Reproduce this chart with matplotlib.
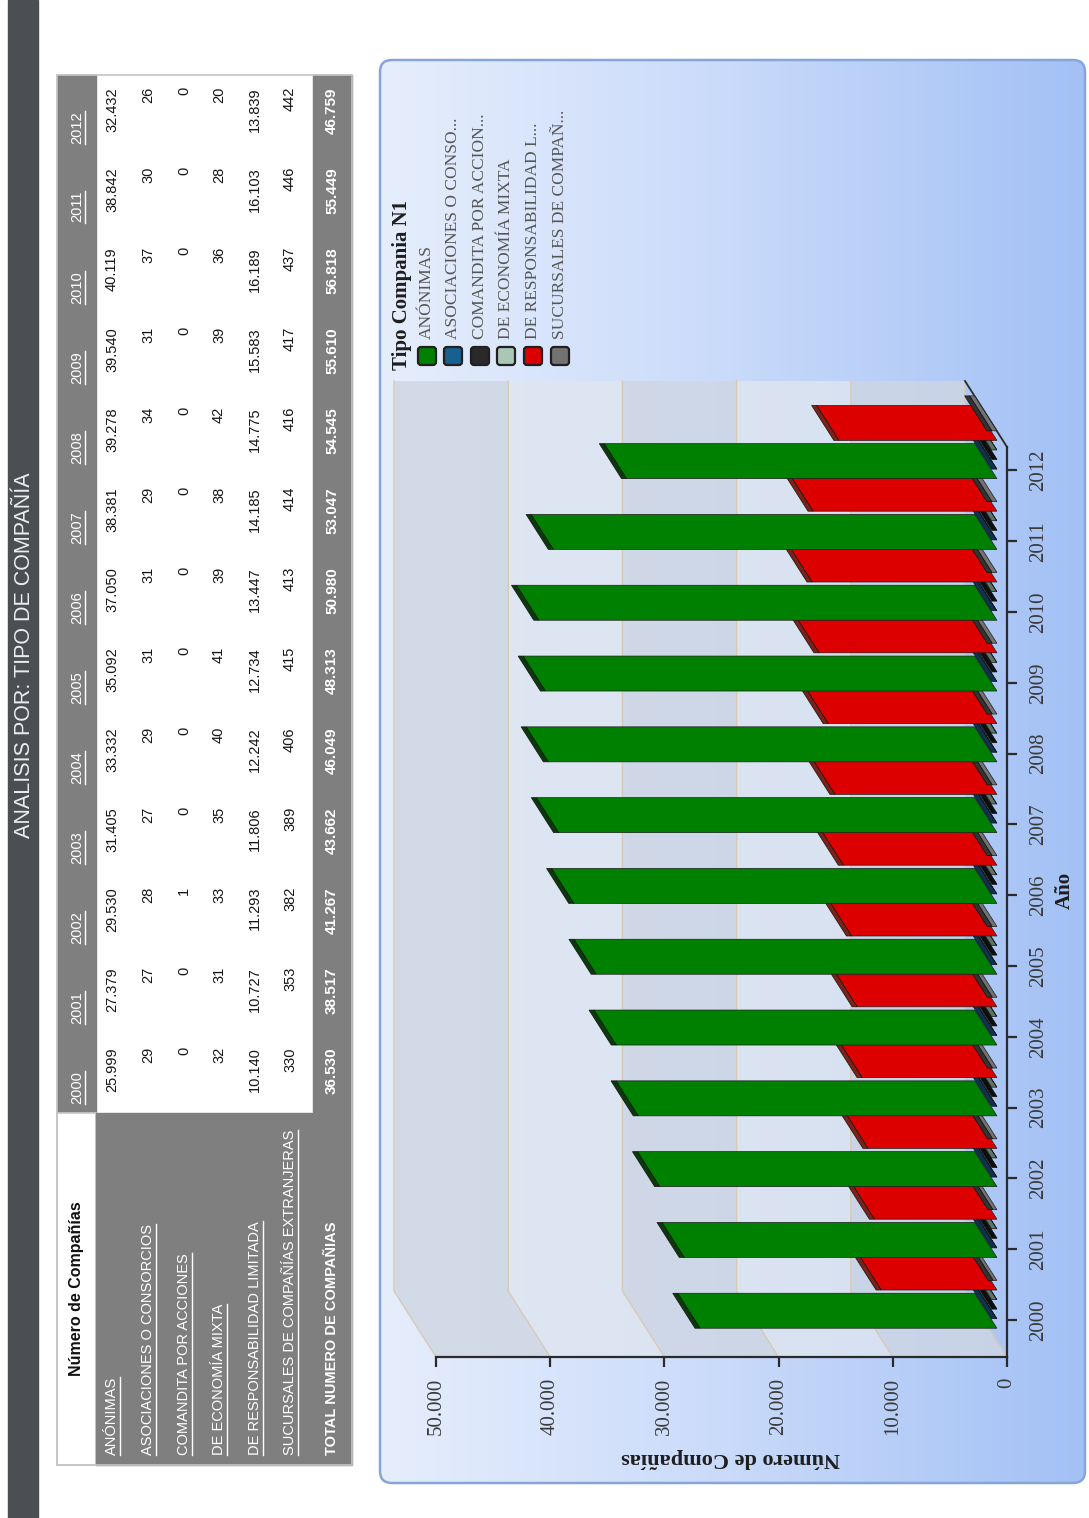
import matplotlib
matplotlib.use('Agg')
import matplotlib.pyplot as plt
from matplotlib.patches import Polygon, Rectangle, FancyBboxPatch
from matplotlib.colors import LinearSegmentedColormap
from matplotlib import font_manager
import numpy as np

# ---------------- data ----------------
years = [2000, 2001, 2002, 2003, 2004, 2005, 2006, 2007, 2008, 2009, 2010, 2011, 2012]
row_labels = ['ANÓNIMAS', 'ASOCIACIONES O CONSORCIOS', 'COMANDITA POR ACCIONES',
              'DE ECONOMÍA MIXTA', 'DE RESPONSABILIDAD LIMITADA',
              'SUCURSALES DE COMPAÑÍAS EXTRANJERAS']
legend_labels = ['ANÓNIMAS', 'ASOCIACIONES O CONSO...', 'COMANDITA POR ACCION...',
                 'DE ECONOMÍA MIXTA', 'DE RESPONSABILIDAD L...', 'SUCURSALES DE COMPAÑ...']
anonimas = [25999, 27379, 29530, 31405, 33332, 35092, 37050, 38381, 39278, 39540, 40119, 38842, 32432]
asociaciones = [29, 27, 28, 27, 29, 31, 31, 29, 34, 31, 37, 30, 26]
comandita = [0, 0, 1, 0, 0, 0, 0, 0, 0, 0, 0, 0, 0]
economia_mixta = [32, 31, 33, 35, 40, 41, 39, 38, 42, 39, 36, 28, 20]
resp_limitada = [10140, 10727, 11293, 11806, 12242, 12734, 13447, 14185, 14775, 15583, 16189, 16103, 13839]
sucursales = [330, 353, 382, 389, 406, 415, 413, 414, 416, 417, 437, 446, 442]
totales = [36530, 38517, 41267, 43662, 46049, 48313, 50980, 53047, 54545, 55610, 56818, 55449, 46759]
value_ticks = [0, 10000, 20000, 30000, 40000, 50000]
series = [anonimas, asociaciones, comandita, economia_mixta, resp_limitada, sucursales]

table_title = 'Número de Compañías'
total_label = 'TOTAL NUMERO DE COMPAÑIAS'
page_title = 'ANALISIS POR: TIPO DE COMPAÑÍA'
legend_title = 'Tipo Compania N1'
x_label = 'Número de Compañías'
y_label = 'Año'

# ---------------- styles ----------------
face_colors = ['#008000', '#17608f', '#2a2a2a', '#a9c6b6', '#dd0000', '#727272']
cap_colors = ['#0a3a0a', '#0c3350', '#0e0e0e', '#5f7468', '#7d2216', '#333333']

W, H, DPI = 1089, 1518, 100
avail = {f.name for f in font_manager.fontManager.ttflist}
if 'Liberation Sans Narrow' in avail:
    SANS, SK = 'Liberation Sans Narrow', 1.2
else:
    SANS, SK = 'Liberation Sans', 1.0
SERIF = 'Liberation Serif'


def fmt(v):
    return f'{v:,}'.replace(',', '.')


fig = plt.figure(figsize=(W / DPI, H / DPI), dpi=DPI)
fig.patch.set_facecolor('white')
bg = fig.add_axes([0, 0, 1, 1], zorder=0)
bg.set_xlim(0, W)
bg.set_ylim(H, 0)
bg.axis('off')

# ---------------- title strip ----------------
bg.add_patch(Rectangle((8, 0), 30, H, color='#4b4e52', zorder=1))
bg.text(25, 655, page_title, rotation=90, color='#ededed', fontsize=15.5 * SK,
        family=SANS, ha='center', va='center', zorder=2)

# ---------------- table ----------------
gray = '#7f7f7f'
hdr_x0, hdr_x1 = 57, 96
tot_x0, tot_x1 = 313, 352
tab_y0, lab_y0, tab_y1 = 75, 1113, 1465
bg.add_patch(Rectangle((hdr_x0, tab_y0), hdr_x1 - hdr_x0, lab_y0 - tab_y0, color=gray, zorder=1))
bg.add_patch(Rectangle((hdr_x0, lab_y0), hdr_x1 - hdr_x0, tab_y1 - lab_y0, fc='white', ec='#c9c9c9', lw=1.2, zorder=1))
bg.add_patch(Rectangle((hdr_x1, lab_y0), tot_x1 - hdr_x1, tab_y1 - lab_y0, color=gray, zorder=1))
bg.add_patch(Rectangle((tot_x0, tab_y0), tot_x1 - tot_x0, lab_y0 - tab_y0, color=gray, zorder=1))
bg.add_patch(Rectangle((hdr_x0, tab_y0), tot_x1 - hdr_x0, tab_y1 - tab_y0, fill=False, ec='#c4c4c4', lw=1.2, zorder=1))

row_x = [112, 148, 184, 219, 255, 290]
tot_x = 332
hdr_x = 77
underlined = []
fs_tab = 10.5 * SK
for i, yr in enumerate(years):
    top = 1047 - 80 * i
    t = bg.text(hdr_x, top + 24, str(yr), rotation=90, rotation_mode='anchor', ha='right',
                va='center', color='white', fontsize=fs_tab, family=SANS, zorder=3)
    underlined.append(t)
    for r, ser in enumerate(series):
        bg.text(row_x[r], top, fmt(ser[i]), rotation=90, rotation_mode='anchor', ha='right',
                va='center', color='#151515', fontsize=fs_tab, family=SANS, zorder=3)
    bg.text(tot_x, top, fmt(totales[i]), rotation=90, rotation_mode='anchor', ha='right',
            va='center', color='white', fontsize=fs_tab * 1.05, family=SANS, fontweight='bold', zorder=3)

for r, lab in enumerate(row_labels):
    t = bg.text(row_x[r], 1455, lab, rotation=90, rotation_mode='anchor', ha='left',
                va='center', color='white', fontsize=fs_tab, family=SANS, zorder=3)
    underlined.append(t)
bg.text(tot_x, 1455, total_label, rotation=90, rotation_mode='anchor', ha='left',
        va='center', color='white', fontsize=fs_tab, family=SANS, fontweight='bold', zorder=3)
bg.text(hdr_x - 1, (lab_y0 + tab_y1) / 2, table_title, rotation=90, ha='center', va='center',
        color='#111111', fontsize=11.5 * SK, family=SANS, fontweight='bold', zorder=3)

# ---------------- chart panel ----------------
px0, py0, px1, py1 = 380, 60, 1085, 1483
panel = FancyBboxPatch((px0, py0), px1 - px0, py1 - py0,
                       boxstyle='round,pad=0,rounding_size=12', fc='none', ec='#86a6d8', lw=1.8, zorder=3)
bg.add_patch(panel)
clip = FancyBboxPatch((px0, py0), px1 - px0, py1 - py0,
                      boxstyle='round,pad=0,rounding_size=12', fc='none', ec='none', transform=bg.transData)
bg.add_patch(clip)
cmap = LinearSegmentedColormap.from_list('pan', ['#e6eefc', '#c9dafa', '#a3c1f5'])
grad = np.linspace(0, 1, 256)[None, :]
im = bg.imshow(grad, extent=(px0, px1, py1, py0), aspect='auto', cmap=cmap, zorder=2)
im.set_clip_path(clip)
bg.set_xlim(0, W)
bg.set_ylim(H, 0)

# legend
leg_x = [427, 453, 480, 506, 533, 560]
bg.text(402, 370, legend_title, rotation=90, rotation_mode='anchor', ha='left', va='center',
        family=SERIF, fontweight='bold', fontsize=15, color='#1e1e1e', zorder=4)
for k, lab in enumerate(legend_labels):
    bg.add_patch(FancyBboxPatch((leg_x[k] - 9, 347), 18, 18, boxstyle='round,pad=0,rounding_size=3',
                                fc=face_colors[k], ec='#202020', lw=1.6, zorder=4))
    bg.text(leg_x[k], 339, lab, rotation=90, rotation_mode='anchor', ha='left', va='center',
            family=SERIF, fontsize=12.5, color='#555555', zorder=4)

# ---------------- chart axes (value -> left, year -> up) ----------------
X0, SX = 1007.0, 0.01142   # px of value 0, px per unit
Y0, SY = 1320.0, 70.8      # px of first year, px per year
ax = fig.add_axes([px0 / W, 1 - py1 / H, (px1 - px0) / W, (py1 - py0) / H], zorder=2)
ax.set_xlim((X0 - px0) / SX, (X0 - px1) / SX)
ax.set_ylim((Y0 - py1) / SY, (Y0 - py0) / SY)
ax.patch.set_alpha(0)

DV, DI = 42 / SX, 66 / SY          # full depth offset in data units
I_FRONT = (Y0 - 1357) / SY
I_TOP = (Y0 - 447) / SY
VMAX = value_ticks[-1]

band_cols = [(0.81, 0.84, 0.89, 0.8), (0.88, 0.90, 0.94, 0.8)]
for k in range(len(value_ticks) - 1):
    v0, v1 = value_ticks[k], value_ticks[k + 1]
    c = band_cols[k % 2]
    ax.add_patch(Polygon([(v0 + DV, I_FRONT + DI), (v1 + DV, I_FRONT + DI),
                          (v1 + DV, I_TOP + DI), (v0 + DV, I_TOP + DI)],
                         closed=True, fc=c, ec='none', zorder=1))
    ax.add_patch(Polygon([(v0, I_FRONT), (v1, I_FRONT), (v1 + DV, I_FRONT + DI), (v0 + DV, I_FRONT + DI)],
                         closed=True, fc=c, ec='none', zorder=1))
for v in value_ticks:
    ax.plot([v, v + DV, v + DV], [I_FRONT, I_FRONT + DI, I_TOP + DI], color='#d6cab6', lw=1.0, zorder=2)
ax.plot([0, DV], [I_TOP, I_TOP + DI], color='#2a2a2a', lw=1.3, zorder=2)

# bars (thin deep slabs)
F0, F1 = 0.24, 0.77
OFF = [-0.34, -0.205, -0.07, 0.065, 0.2, 0.335]
CV = 5 / SX
for i in range(len(years)):
    for s, ser in enumerate(series):
        v = ser[i]
        ib = i + OFF[s]
        a = (F0 * DV, ib + F0 * DI)
        b = (v + F0 * DV, ib + F0 * DI)
        c = (v + F1 * DV, ib + F1 * DI)
        d = (F1 * DV, ib + F1 * DI)
        ax.add_patch(Polygon([a, b, c, d], closed=True, fc=face_colors[s], ec='#1c1c1c', lw=0.5, zorder=5 + i))
        ax.add_patch(Polygon([b, (b[0] + CV, b[1]), (c[0] + CV, c[1]), c], closed=True,
                             fc=cap_colors[s], ec='#111111', lw=0.5, zorder=5 + i))

# axes lines, ticks
for side in ['left', 'top']:
    ax.spines[side].set_visible(False)
ax.spines['bottom'].set_position(('data', I_FRONT))
ax.spines['bottom'].set_bounds(0, VMAX)
ax.spines['right'].set_position(('data', 0))
ax.spines['right'].set_bounds(I_FRONT, I_TOP)
for side in ['bottom', 'right']:
    ax.spines[side].set_color('#2a2a2a')
    ax.spines[side].set_linewidth(1.6)
ax.set_xticks(value_ticks)
ax.set_xticklabels([fmt(v) for v in value_ticks])
ax.yaxis.tick_right()
ax.set_yticks(range(len(years)))
ax.set_yticklabels([str(y) for y in years])
ax.tick_params(axis='x', direction='out', length=7, width=1.6, color='#2a2a2a', pad=8,
               labelrotation=90, labelsize=15, labelcolor='#3a3a3a')
ax.tick_params(axis='y', direction='out', length=7, width=1.6, color='#2a2a2a', pad=9,
               labelrotation=90, labelsize=15, labelcolor='#3a3a3a')
for lbl in ax.get_xticklabels() + ax.get_yticklabels():
    lbl.set_fontfamily(SERIF)
for lbl in ax.get_yticklabels():
    lbl.set_va('center')

ax.text((731 - px0) / (px1 - px0), (py1 - 1458) / (py1 - py0), x_label, transform=ax.transAxes,
        rotation=180, ha='center', va='center', family=SERIF, fontweight='bold', fontsize=16, color='#1e1e1e')
ax.text((1065 - px0) / (px1 - px0), (py1 - 890) / (py1 - py0), y_label, transform=ax.transAxes,
        rotation=90, ha='center', va='center', family=SERIF, fontweight='bold', fontsize=15, color='#1e1e1e')

# underline table links
fig.canvas.draw()
r = fig.canvas.get_renderer()
inv = bg.transData.inverted()
for t in underlined:
    bb = t.get_window_extent(r).transformed(inv)
    xs = max(bb.x0, bb.x1)
    bg.plot([xs + 1, xs + 1], [min(bb.y0, bb.y1), max(bb.y0, bb.y1)], color='white', lw=1.0, zorder=3)

fig.savefig('out.png', dpi=DPI)
